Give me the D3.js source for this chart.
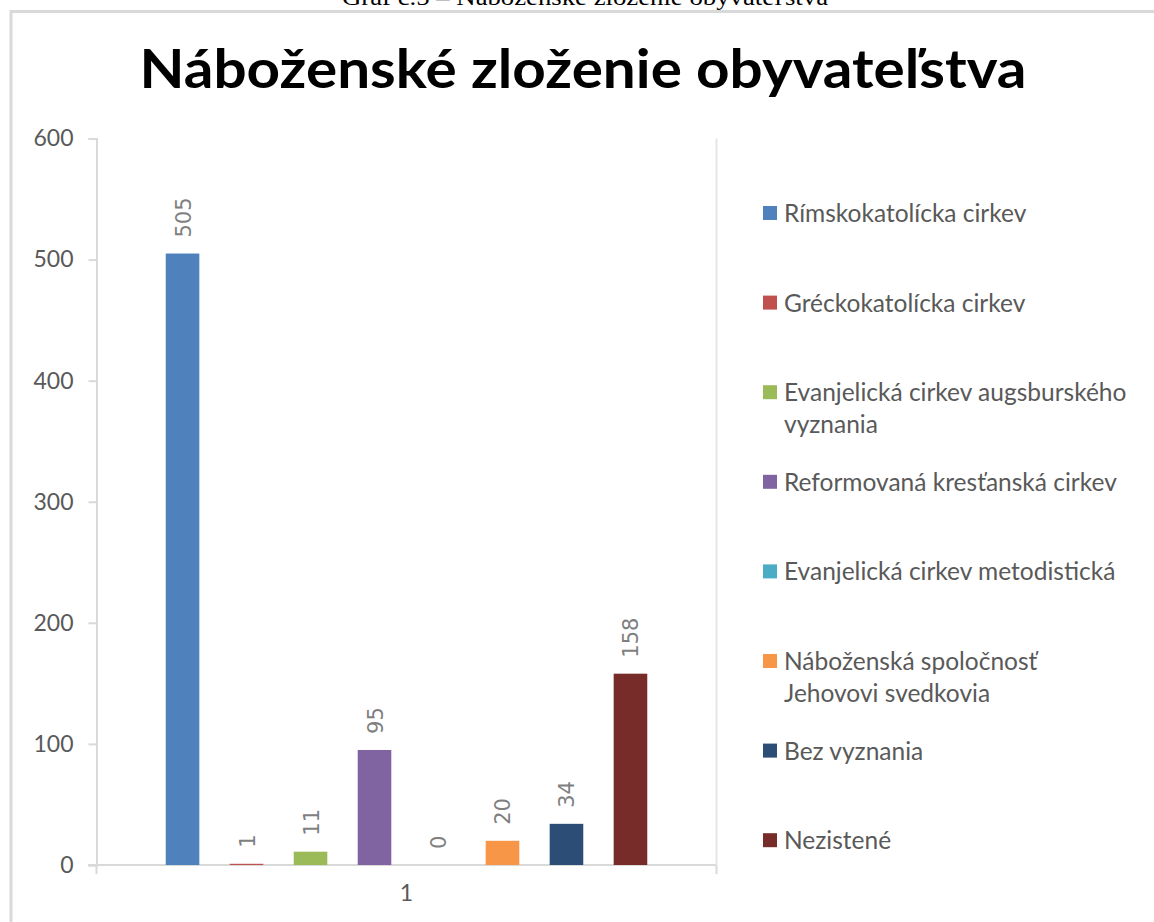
<!DOCTYPE html>
<html>
<head>
<meta charset="utf-8">
<script src="https://cdn.jsdelivr.net/npm/d3@7"></script>
<style>
  body { margin: 0; background: #fff; }
  svg { display: block; }
</style>
</head>
<body>
<svg id="chart"></svg>
<script>
const categories = ["1"];
const series = [
  "Rímskokatolícka cirkev",
  "Gréckokatolícka cirkev",
  "Evanjelická cirkev augsburského vyznania",
  "Reformovaná kresťanská cirkev",
  "Evanjelická cirkev metodistická",
  "Náboženská spoločnosť Jehovovi svedkovia",
  "Bez vyznania",
  "Nezistené"
];
// legend lines (Excel wraps the long names)
const legendLines = [
  ["Rímskokatolícka cirkev"],
  ["Gréckokatolícka cirkev"],
  ["Evanjelická cirkev augsburského", "vyznania"],
  ["Reformovaná kresťanská cirkev"],
  ["Evanjelická cirkev metodistická"],
  ["Náboženská spoločnosť", "Jehovovi svedkovia"],
  ["Bez vyznania"],
  ["Nezistené"]
];
const values = [505, 1, 11, 95, 0, 20, 34, 158];
const colors = ["#4f81bd", "#c0504d", "#9bbb59", "#8064a2", "#4bacc6", "#f79646", "#2c4d75", "#772c2a"];
const yTicks = [0, 100, 200, 300, 400, 500, 600];

const width = 1154;
const height = 922;

const svg = d3.select("svg#chart")
    .attr("width", width)
    .attr("height", height);

// caption above the chart (mostly cut off at the top, as in the source)
svg.append("text")
    .attr("x", 585)
    .attr("y", 5)
    .attr("text-anchor", "middle")
    .attr("font-family", "Liberation Serif, serif")
    .attr("font-size", 24)
    .attr("textLength", 486)
    .attr("lengthAdjust", "spacingAndGlyphs")
    .attr("fill", "#000")
    .text("Graf č.5 – Náboženské zloženie obyvateľstva");

// chart frame
svg.append("path")
    .attr("d", `M11,${height + 5}V11.5H${width + 5}`)
    .attr("fill", "none")
    .attr("stroke", "#d9d9d9")
    .attr("stroke-width", 3);

svg.append("text")
    .attr("x", 583)
    .attr("y", 88)
    .attr("text-anchor", "middle")
    .attr("font-family", "Lato, sans-serif")
    .attr("font-weight", "bold")
    .attr("font-size", 53)
    .attr("textLength", 887)
    .attr("lengthAdjust", "spacingAndGlyphs")
    .attr("fill", "#000")
    .text("Náboženské zloženie obyvateľstva");

const x0 = d3.scaleBand()
    .domain(categories)
    .range([96.5, 716.5])
    .paddingInner(0.1)
    .paddingOuter(0.095);

const x1 = d3.scaleBand()
    .domain(series)
    .range([0, x0.bandwidth()])
    .paddingInner(0.475)
    .paddingOuter(0.2375);

const y = d3.scaleLinear()
    .domain([0, 600])
    .range([865, 138.5]);

// y axis
const yAxis = svg.append("g")
    .attr("transform", "translate(96.5,0)")
    .call(d3.axisLeft(y).tickValues(yTicks).tickSize(8).tickPadding(15));
yAxis.select(".domain").attr("stroke", "#d9d9d9").attr("stroke-width", 2);
yAxis.selectAll(".tick line").attr("stroke", "#d9d9d9").attr("stroke-width", 2);
yAxis.selectAll(".tick text")
    .attr("font-family", "Lato, sans-serif")
    .attr("font-size", 23)
    .attr("fill", "#595959");

// x axis
const xAxis = svg.append("g")
    .attr("transform", "translate(0,865)")
    .call(d3.axisBottom(x0).tickSize(0).tickPadding(20));
xAxis.select(".domain").attr("stroke", "#d9d9d9").attr("stroke-width", 2)
    .attr("d", "M88,0H716.5");
xAxis.selectAll(".tick text")
    .attr("font-family", "Lato, sans-serif")
    .attr("font-size", 23)
    .attr("fill", "#595959");
// category boundary ticks
xAxis.selectAll("line.bound")
    .data([x0.range()[0], x0.range()[1]])
    .join("line")
    .attr("class", "bound")
    .attr("x1", d => d)
    .attr("x2", d => d)
    .attr("y1", 0)
    .attr("y2", 9)
    .attr("stroke", "#d9d9d9")
    .attr("stroke-width", 2);
// right category line reaching the top
svg.append("line")
    .attr("x1", x0.range()[1])
    .attr("x2", x0.range()[1])
    .attr("y1", y(600))
    .attr("y2", y(0))
    .attr("stroke", "#e6e6e6")
    .attr("stroke-width", 2);

const group = svg.append("g")
    .selectAll("g")
    .data(categories)
    .join("g")
    .attr("transform", d => `translate(${x0(d)},0)`);

group.selectAll("rect")
    .data(() => series.map((s, i) => ({s, v: values[i], c: colors[i]})))
    .join("rect")
    .attr("x", d => x1(d.s))
    .attr("y", d => y(d.v))
    .attr("width", x1.bandwidth())
    .attr("height", d => y(0) - y(d.v))
    .attr("fill", d => d.c);

group.selectAll("text.val")
    .data(() => series.map((s, i) => ({s, v: values[i]})))
    .join("text")
    .attr("class", "val")
    .attr("transform", d => `translate(${x1(d.s) + x1.bandwidth() / 2 + 8},${y(d.v) - 16}) rotate(-90)`)
    .attr("font-family", "DejaVu Sans, sans-serif")
    .attr("font-size", 21)
    .attr("fill", "#7f7f7f")
    .text(d => d.v);

// legend
const legend = svg.append("g")
    .selectAll("g")
    .data(legendLines)
    .join("g")
    .attr("transform", (d, i) => `translate(763,${213 + i * 89.6})`);

legend.append("rect")
    .attr("x", 0)
    .attr("y", -7)
    .attr("width", 14)
    .attr("height", 14)
    .attr("fill", (d, i) => colors[i]);

legend.append("text")
    .attr("font-family", "Lato, sans-serif")
    .attr("font-size", 24.5)
    .attr("fill", "#595959")
    .selectAll("tspan")
    .data(d => d)
    .join("tspan")
    .attr("x", 21)
    .attr("y", (d, i) => 9 + i * 32)
    .text(d => d);
</script>
</body>
</html>
